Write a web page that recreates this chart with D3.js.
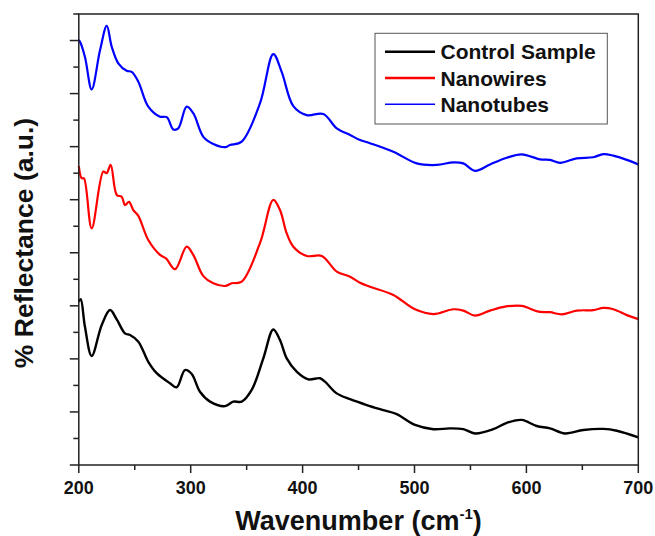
<!DOCTYPE html>
<html><head><meta charset="utf-8">
<script src="https://cdn.jsdelivr.net/npm/d3@7"></script>
<style>body{margin:0;background:#fff}svg{display:block}text{font-family:"Liberation Sans",Arial,sans-serif;font-weight:bold}</style>
</head><body><svg id="c" width="655" height="536"></svg>
<script>
const seriesNames = ["Control Sample", "Nanowires", "Nanotubes"];
const seriesColors = ["#000000", "#ff0000", "#0000ff"];
const xTickValues = [200, 300, 400, 500, 600, 700];

const controlWn = [200,201.7,205.5,211.5,220.5,227.9,233.9,241.3,245.8,253.2,262.1,269.6,281.5,287.5,294.9,300.9,308.3,317.3,330.7,338.1,345.6,354.5,364.9,373.8,379.8,385.8,394.7,405.1,415.6,420,430.5,442.4,457.3,472.1,484.1,500.5,516.8,531.7,543.6,554.1,570.4,582.4,595.8,609.2,621.1,634.5,650.9,668.8,680.8,700];
const controlVal = [6.16,6.25,5.21,4.11,5.28,5.84,5.49,4.96,4.90,4.65,3.89,3.46,3.08,2.93,3.58,3.43,2.76,2.39,2.22,2.39,2.39,2.83,4.02,5.11,4.71,4.02,3.52,3.23,3.27,3.14,2.70,2.48,2.26,2.07,1.92,1.51,1.35,1.38,1.35,1.19,1.35,1.59,1.70,1.47,1.38,1.19,1.32,1.36,1.29,1.04];

const wiresWn = [200,202.6,204.6,211.5,221.9,224.9,228.5,233.9,238.3,241.3,244.9,248.7,253.2,262.1,272.6,277.9,286,296.4,302.3,311.3,320.2,331.3,336.6,345.6,361.9,373.8,379.8,385.8,391.7,403.7,417.1,430.5,442.4,451.3,460.2,481.1,500.5,516.8,534.7,543.6,554.1,567.5,580.9,595.8,610.7,621.1,631.6,645,659.8,668.8,677.7,689.7,700];
const wiresVal = [11.27,10.81,10.81,8.92,11.06,11.00,11.31,10.18,10.11,9.80,9.92,9.61,9.39,8.48,7.92,7.79,7.38,8.23,7.92,7.12,6.85,6.75,6.85,6.91,8.36,9.99,9.61,8.73,8.23,7.88,7.88,7.29,7.10,6.87,6.72,6.41,5.87,5.69,5.87,5.82,5.63,5.82,5.97,6.00,5.78,5.76,5.68,5.82,5.84,5.92,5.87,5.65,5.50];

const tubesWn = [200,201,205.5,211.5,219,225,229.4,235.3,242.8,247.3,253.2,262.1,272.6,278.6,284.5,288.9,296.4,302.3,311.3,320.2,330.7,335.1,345.6,361.9,373.8,381.3,391.7,403.7,418.5,430.5,442.4,451.3,460.2,481.1,502,519.9,534.7,543.6,554.1,567.5,582.4,595.8,612.2,621.1,630.1,645,659.8,668.8,677.7,689.7,700];
const tubesVal = [16.02,15.96,15.38,14.16,15.64,16.55,15.77,15.14,14.86,14.82,14.45,13.51,13.13,13.11,12.65,12.69,13.51,13.26,12.37,12.10,11.98,12.06,12.19,13.63,15.49,14.82,13.53,13.19,13.23,12.69,12.44,12.25,12.13,11.81,11.37,11.31,11.41,11.37,11.09,11.33,11.58,11.71,11.52,11.50,11.39,11.56,11.60,11.72,11.66,11.50,11.33];

const series = [
  {name: seriesNames[0], color: seriesColors[0], wn: controlWn, val: controlVal, lw: 2.4},
  {name: seriesNames[1], color: seriesColors[1], wn: wiresWn, val: wiresVal, lw: 2.2},
  {name: seriesNames[2], color: seriesColors[2], wn: tubesWn, val: tubesVal, lw: 2.2}
];

const svg = d3.select("#c");
const L = 78.8, R = 638.3, T = 14, B = 465;
const x = d3.scaleLinear().domain([200, 700]).range([L, R]);
const y = d3.scaleLinear().domain([0, 17]).range([B, T]);
const axisColor = "#222";

// curves
const line = d3.line().x(d => x(d[0])).y(d => y(d[1])).curve(d3.curveCatmullRom.alpha(0.5));
series.forEach(s => {
  svg.append("path").datum(s.wn.map((w, i) => [w, s.val[i]]))
    .attr("d", line).attr("fill", "none").attr("stroke", s.color)
    .attr("stroke-width", s.lw).attr("stroke-linejoin", "round");
});

// frame
svg.append("rect").attr("x", L).attr("y", T).attr("width", R - L).attr("height", B - T)
  .attr("fill", "none").attr("stroke", axisColor).attr("stroke-width", 1.5);

// x ticks
const xTicksAll = d3.range(200, 701, 50);
svg.append("g").selectAll("line").data(xTicksAll).join("line")
  .attr("x1", d => x(d)).attr("x2", d => x(d)).attr("y1", B)
  .attr("y2", d => B + (d % 100 === 0 ? 8 : 5))
  .attr("stroke", axisColor).attr("stroke-width", 1.5);
svg.append("g").selectAll("text").data(xTickValues).join("text")
  .attr("x", d => x(d)).attr("y", 494).attr("text-anchor", "middle")
  .attr("font-size", 18).attr("fill", "#111").text(d => d);

// y ticks
const yTicksAll = d3.range(0, 18, 1);
svg.append("g").selectAll("line").data(yTicksAll).join("line")
  .attr("x1", L).attr("x2", d => L - (d % 2 === 0 ? 9 : 5.5))
  .attr("y1", d => y(d)).attr("y2", d => y(d))
  .attr("stroke", axisColor).attr("stroke-width", 1.5);

// axis titles
const xt = svg.append("text").attr("x", x(450)).attr("y", 530).attr("text-anchor", "middle")
  .attr("font-size", 27).attr("fill", "#111");
xt.append("tspan").text("Wavenumber (cm");
xt.append("tspan").attr("font-size", 15).attr("dy", -11).text("-1");
xt.append("tspan").attr("dy", 11).text(")");

svg.append("text").attr("transform", "translate(33,243) rotate(-90)")
  .attr("text-anchor", "middle").attr("font-size", 26.5).attr("fill", "#111")
  .text("% Reflectance (a.u.)");

// legend
const lg = svg.append("g");
lg.append("rect").attr("x", 375).attr("y", 33.3).attr("width", 232.3).attr("height", 90.7)
  .attr("fill", "#fff").attr("stroke", "#555").attr("stroke-width", 1);
const legW = [2.6, 2.4, 1.6];
series.forEach((s, i) => {
  const cy = 51.7 + i * 26.3;
  lg.append("line").attr("x1", 385).attr("x2", 435).attr("y1", cy).attr("y2", cy)
    .attr("stroke", s.color).attr("stroke-width", legW[i]);
  lg.append("text").attr("x", 440.5).attr("y", cy + 7.5).attr("font-size", 21)
    .attr("fill", "#111").text(s.name);
});
</script></body></html>
